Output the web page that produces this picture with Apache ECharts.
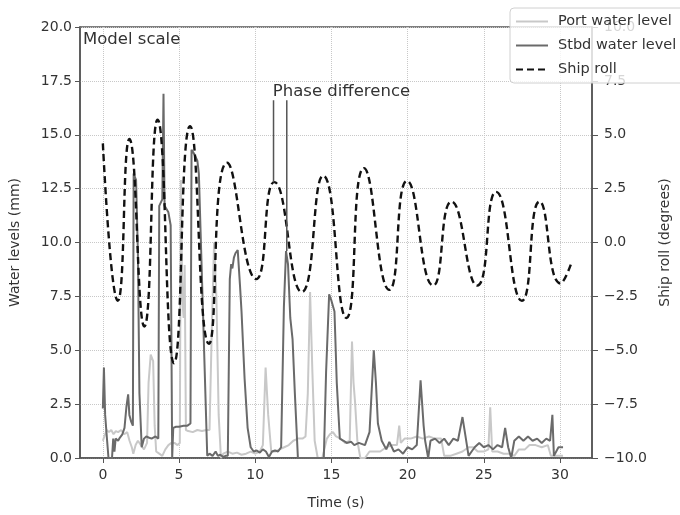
<!DOCTYPE html>
<html>
<head>
<meta charset="utf-8">
<script src="https://cdn.jsdelivr.net/npm/echarts@6/dist/echarts.min.js"></script>
<style>
html, body { margin: 0; padding: 0; background: #fff; }
#chart { width: 680px; height: 515px; }
</style>
</head>
<body>
<div id="chart"></div>
<script>
// tick positions
var timeTicks = [0, 5, 10, 15, 20, 25, 30];

// starboard water level (mm)
var stbdT = [0.0, 0.07, 0.15, 0.28, 0.37, 0.6, 0.68, 0.76, 0.84, 1.0, 1.12, 1.28, 1.42, 1.55, 1.66, 1.74, 1.85, 1.97,
    2.02, 2.18, 2.3, 2.4, 2.55, 2.7, 2.85, 3.0, 3.2, 3.45, 3.64, 3.7, 3.9, 3.98, 4.05, 4.3, 4.45, 4.55,
    4.62, 4.8, 5.0, 5.3, 5.55, 5.75, 5.82, 6.0, 6.2, 6.3, 6.85, 7.0, 7.2, 7.4, 7.55, 7.7, 7.9, 8.05,
    8.2, 8.33, 8.42, 8.5, 8.6, 8.7, 8.85, 9.0, 9.1, 9.3, 9.5, 9.7, 9.9, 10.1, 10.3, 10.5, 10.7, 10.9, 11.1,
    11.3, 11.5, 11.7, 11.88, 12.02, 12.15, 12.3, 12.45, 12.6, 12.8, 14.5, 14.65, 14.85, 15.0, 15.2, 15.35, 15.55,
    15.8, 16.0, 16.3, 16.5, 16.8, 17.2, 17.5, 17.78, 17.92, 18.05, 18.3, 18.6, 18.8, 19.1, 19.4, 19.7, 20.0, 20.3,
    20.6, 20.85, 21.05, 21.15, 21.35, 21.5, 21.8, 22.1, 22.4, 22.7, 23.0, 23.3, 23.6, 23.8, 24.0, 24.2, 24.4, 24.7,
    25.0, 25.3, 25.6, 25.9, 26.2, 26.4, 26.6, 26.8, 27.0, 27.3, 27.6, 27.9, 28.2, 28.5, 28.8, 29.1, 29.35, 29.5,
    29.6, 29.9, 30.2];
var stbdLevel = [2.3, 4.2, 2.0, 0.8, 0.0, 0.0, 0.9, 0.3, 0.9, 0.8, 0.95, 1.1, 1.4, 2.4, 2.95, 2.0, 1.7, 1.5,
    13.2, 12.9, 9.5, 3.0, 0.5, 0.9, 1.0, 0.95, 0.9, 1.0, 0.9, 11.7, 12.0, 16.9, 11.7, 11.4, 10.8, 0.0,
    1.4, 1.45, 1.45, 1.5, 1.5, 1.6, 14.3, 14.1, 13.8, 13.2, 0.1, 0.2, 0.1, 0.3, 0.1, 0.15, 0.05, 0.1,
    0.1, 8.3, 9.0, 8.8, 9.3, 9.5, 9.65, 8.0, 6.8, 3.7, 1.4, 0.5, 0.3, 0.35, 0.25, 0.4, 0.3, 0.05, 0.3,
    0.35, 0.3, 0.5, 7.0, 9.6, 9.0, 6.5, 5.5, 3.0, 0.0, 0.0, 4.0, 7.6, 7.3, 6.8, 3.5, 0.9,
    0.8, 0.7, 0.75, 0.6, 0.7, 0.6, 1.2, 5.0, 3.5, 1.6, 0.8, 0.4, 0.75, 0.3, 0.4, 0.2, 0.5, 0.4,
    0.6, 3.6, 1.5, 0.8, 0.0, 0.8, 0.9, 0.7, 0.9, 0.6, 0.9, 0.8, 1.9, 1.0, 0.1, 0.3, 0.5, 0.7,
    0.5, 0.6, 0.4, 0.6, 0.5, 1.4, 0.5, 0.0, 0.8, 1.0, 0.8, 1.0, 0.8, 0.9, 0.7, 0.9, 0.8, 2.0,
    0.1, 0.5, 0.5];

// port water level (mm)
var portT = [0.0, 0.1, 0.25, 0.4, 0.55, 0.7, 0.85, 1.0, 1.2, 1.4, 1.6, 1.75, 1.9, 2.0, 2.15, 2.3, 2.5, 2.7, 2.9,
    3.0, 3.14, 3.3, 3.4, 3.5, 3.7, 3.9, 4.1, 4.3, 4.5, 4.7, 4.9, 5.05, 5.12, 5.22, 5.3, 5.37, 5.45, 5.6, 5.9,
    6.2, 6.5, 6.8, 7.0, 7.15, 7.3, 7.45, 7.6, 7.75, 7.9, 8.2, 8.5, 8.8, 9.1, 9.4, 9.7, 10.0, 10.3, 10.5, 10.68,
    10.85, 11.05, 11.3, 11.6, 11.9, 12.2, 12.5, 12.8, 13.1, 13.3, 13.45, 13.6, 13.75, 13.9, 14.1, 14.4, 14.7,
    14.9, 15.1, 15.3, 15.6, 15.9, 16.2, 16.35, 16.45, 16.55, 16.7, 16.9, 17.2, 17.5, 17.8, 18.2, 18.6, 19.0,
    19.3, 19.45, 19.55, 19.8, 20.2, 20.6, 21.0, 21.4, 21.8, 22.2, 22.4, 22.8, 23.2, 23.6, 24.0, 24.3, 24.6,
    25.0, 25.3, 25.42, 25.55, 25.9, 26.3, 26.7, 27.0, 27.3, 27.7, 28.0, 28.4, 28.8, 29.2, 29.4, 29.8, 30.2];
var portLevel = [0.8, 1.0, 1.3, 1.2, 1.3, 1.1, 1.25, 1.2, 1.3, 1.1, 1.2, 0.8, 0.5, 0.2, 0.6, 0.8, 0.6, 0.4, 0.7,
    3.5, 4.8, 4.5, 1.5, 0.3, 0.2, 0.1, 0.4, 0.6, 0.7, 0.7, 0.6, 0.7, 12.9, 7.3, 6.5, 8.95, 1.3, 1.25, 1.2,
    1.3, 1.25, 1.3, 1.3, 6.0, 10.0, 7.5, 2.0, 0.0, 0.2, 0.3, 0.2, 0.25, 0.15, 0.2, 0.3, 0.2, 0.3, 0.6, 4.2,
    2.0, 0.3, 0.3, 0.4, 0.5, 0.6, 0.8, 0.9, 0.9, 1.0, 3.0, 7.7, 4.0, 0.8, 0.0, 0.0, 0.9,
    1.1, 1.2, 1.0, 0.9, 0.7, 0.8, 5.4, 3.5, 2.6, 0.8, 0.0, 0.0, 0.3, 0.3, 0.3, 0.5, 0.6,
    0.6, 1.5, 0.7, 0.9, 0.9, 1.0, 0.9, 1.0, 0.9, 0.9, 0.1, 0.1, 0.2, 0.3, 0.5, 0.5, 0.3,
    0.3, 0.4, 2.35, 0.3, 0.3, 0.2, 0.2, 0.1, 0.4, 0.4, 0.6, 0.6, 0.5, 0.6, 0.1, 0.1, 0.1];

// ship roll (degrees), right axis
var rollT = [0, 0.98, 1.74, 2.72, 3.59, 4.67, 5.72, 6.96, 8.15, 10.07, 11.25, 13.05, 14.46, 15.98, 17.13, 18.8,
    19.96, 21.68, 22.88, 24.57, 25.8, 27.5, 28.66, 30.03, 30.77];
var rollDeg = [4.6, -2.7, 4.8, -3.9, 5.7, -5.6, 5.4, -4.7, 3.7, -1.7, 2.8, -2.3, 3.1, -3.5, 3.45, -2.2,
    2.86, -2.0, 1.9, -2.0, 2.35, -2.7, 1.9, -1.9, -0.9];

// "Phase difference" marker lines: time, top and bottom (mm)
var phaseT = [11.2, 12.07];
var phaseTop = [16.6, 16.6];
var phaseBottom = [12.8, 9.6];

function zip(a, b) {
    var out = [];
    for (var i = 0; i < a.length; i++) out.push([a[i], b[i]]);
    return out;
}

var font = 'DejaVu Sans';
var textColor = '#333';
var frameColor = '#555';

function fmt(v) {
    var s = Math.abs(v).toFixed(1);
    return v < 0 ? '\u2212' + s : s;
}

var chart = echarts.init(document.getElementById('chart'));

var series = [
    {
        name: 'Port water level', type: 'line', yAxisIndex: 0,
        data: zip(portT, portLevel), symbol: 'none', z: 2,
        lineStyle: { color: '#c8c8c8', width: 2 }, itemStyle: { color: '#c8c8c8' }
    },
    {
        name: 'Stbd water level', type: 'line', yAxisIndex: 0,
        data: zip(stbdT, stbdLevel), symbol: 'none', z: 3,
        lineStyle: { color: '#6a6a6a', width: 2 }, itemStyle: { color: '#6a6a6a' }
    },
    {
        name: 'Ship roll', type: 'line', yAxisIndex: 1,
        data: zip(rollT, rollDeg), symbol: 'none', smooth: 0.55, z: 4,
        lineStyle: { color: '#111', width: 2.4, type: [7, 4] }, itemStyle: { color: '#111' }
    }
];
phaseT.forEach(function (t, i) {
    series.push({
        type: 'line', yAxisIndex: 0, symbol: 'none', silent: true, z: 5,
        data: [[t, phaseTop[i]], [t, phaseBottom[i]]],
        lineStyle: { color: '#555', width: 1.5 }
    });
});

var option = {
    animation: false,
    textStyle: { fontFamily: font },
    grid: { left: 80, right: 85, top: 27, bottom: 54, show: true, borderColor: frameColor, borderWidth: 1.5 },
    legend: {
        data: ['Port water level', 'Stbd water level', 'Ship roll'],
        orient: 'vertical', left: 510, top: 8,
        itemWidth: 32, itemHeight: 14, itemGap: 9,
        padding: [6, 10, 6, 5],
        backgroundColor: 'rgba(255,255,255,0.8)',
        borderColor: '#d0d0d0', borderWidth: 1, borderRadius: 4,
        itemStyle: { opacity: 0 },
        textStyle: { fontFamily: font, fontSize: 14.5, color: textColor, padding: [0, 0, 0, 5] }
    },
    xAxis: {
        type: 'value', min: -1.5, max: 32.1,
        name: 'Time (s)', nameLocation: 'middle', nameGap: 38,
        nameTextStyle: { fontFamily: font, fontSize: 14, color: textColor },
        axisLine: { show: true, onZero: false, lineStyle: { color: frameColor, width: 1.5 } },
        axisTick: { show: true, length: 5, customValues: timeTicks, lineStyle: { color: frameColor } },
        axisLabel: { customValues: timeTicks, margin: 10, fontSize: 14, color: textColor, fontFamily: font },
        splitLine: { show: true, lineStyle: { color: '#c8c8c8', type: 'dotted', width: 1 } }
    },
    yAxis: [
        {
            type: 'value', min: 0, max: 20, interval: 2.5, position: 'left',
            name: 'Water levels (mm)', nameLocation: 'middle', nameGap: 58, nameRotate: 90,
            nameTextStyle: { fontFamily: font, fontSize: 14, color: textColor },
            axisLine: { show: true, onZero: false, lineStyle: { color: frameColor, width: 1.5 } },
            axisTick: { show: true, length: 5, lineStyle: { color: frameColor } },
            axisLabel: { formatter: fmt, margin: 8, fontSize: 14, color: textColor, fontFamily: font },
            splitLine: { show: true, lineStyle: { color: '#c8c8c8', type: 'dotted', width: 1 } }
        },
        {
            type: 'value', min: -10, max: 10, interval: 2.5, position: 'right',
            name: 'Ship roll (degrees)', nameLocation: 'middle', nameGap: 66, nameRotate: 90,
            nameTextStyle: { fontFamily: font, fontSize: 14, color: textColor },
            axisLine: { show: true, onZero: false, lineStyle: { color: frameColor, width: 1.5 } },
            axisTick: { show: true, length: 6, lineStyle: { color: frameColor } },
            axisLabel: { formatter: fmt, margin: 12, fontSize: 14, color: textColor, fontFamily: font },
            splitLine: { show: false }
        }
    ],
    series: series
};
chart.setOption(option);

// text annotations placed in data coordinates
var phasePos = chart.convertToPixel({ xAxisIndex: 0, yAxisIndex: 0 }, [phaseT[0] - 0.05, phaseTop[0]]);
chart.setOption({
    graphic: [
        {
            type: 'text', left: 83, top: 31,
            style: { text: 'Model scale', font: '16.5px "DejaVu Sans"', fill: textColor }
        },
        {
            type: 'text', x: phasePos[0], y: phasePos[1],
            style: { text: 'Phase difference', font: '16.5px "DejaVu Sans"', fill: textColor,
                align: 'left', verticalAlign: 'bottom' }
        }
    ]
});
</script>
</body>
</html>
